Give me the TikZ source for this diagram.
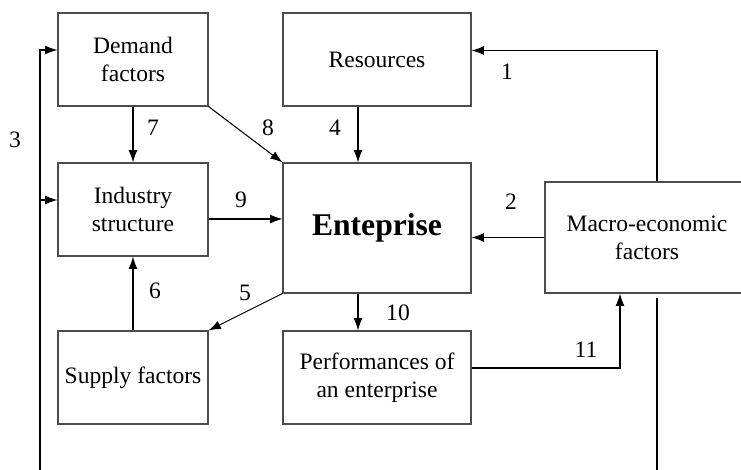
\documentclass[tikz,border=0pt]{standalone}
\usepackage{fontspec}
\setmainfont{Liberation Serif}
\usetikzlibrary{arrows.meta}

\begin{document}
\begin{tikzpicture}[x=0.02cm,y=-0.02cm,line width=0.6pt,>={Latex[length=7pt,width=5pt]}]
    \tikzstyle{block}=[rectangle,draw=black!70,fill=white,align=center,inner sep=0pt,font=\fontsize{13.4}{16}\selectfont]
    \tikzstyle{small}=[block,minimum width=3cm,minimum height=1.86cm]
    \tikzstyle{wide}=[block,minimum width=3.76cm,minimum height=1.86cm]
    \tikzstyle{num}=[inner sep=0pt,font=\fontsize{13.4}{16}\selectfont]

    \clip (0,0) rectangle (741,470);

    \node[small] (demand) at (133,59.5) {Demand\\factors};
    \node[small] (industry) at (133,209.5) {Industry\\structure};
    \node[small] (supply) at (133,377.5) {Supply factors};
    \node[wide] (resources) at (377,59.5) {Resources};
    \node[wide,minimum height=2.6cm,font=\fontsize{18}{22}\selectfont\bfseries] (enterprise) at (377,228) {Enteprise};
    \node[wide] (perform) at (377,377.5) {Performances of\\an enterprise};
    \node[block,minimum width=4.08cm,minimum height=2.22cm] (macro) at (647,237.5) {Macro-economic\\factors};

    \coordinate (left-end) at (40,470);
    \coordinate (right-top) at (657,298);
    \coordinate (right-end) at (657,470);
    \coordinate (ind-in) at ([yshift=0.19cm]industry.west);
    \coordinate (ind-out) at ([yshift=-0.19cm]industry.east);

    \draw[->] ([xshift=0.2cm]macro.north) |- ([yshift=0.18cm]resources.east);
    \draw[->] (macro.west) -- (macro.west -| enterprise.east);
    \draw[->] (left-end) |- ([yshift=0.19cm]demand.west);
    \draw[->] (left-end |- ind-in) -- (ind-in);
    \draw (right-top) -- (right-end);
    \draw[->] ([xshift=-0.38cm]resources.south) -- ([xshift=-0.38cm]enterprise.north);
    \draw[->] (enterprise.south west) -- (supply.north east);
    \draw[->] (supply.north) -- (industry.south);
    \draw[->] (demand.south) -- (industry.north);
    \draw[->] (demand.south east) -- (enterprise.north west);
    \draw[->] (ind-out) -- (ind-out -| enterprise.west);
    \draw[->] ([xshift=-0.38cm]enterprise.south) -- ([xshift=-0.38cm]perform.north);
    \draw[->] ([yshift=0.19cm]perform.east) -| ([xshift=-0.54cm]macro.south);

    \foreach \num/\x/\y in {1/507/72, 2/511/202, 3/15/140, 4/335/128, 5/245/293, 6/155/291,
                            7/153/128, 8/268/128, 9/241/200, 10/398/313, 11/586/350}
        \node[num] (L-\num) at (\x,\y) {\num};
\end{tikzpicture}
\end{document}
